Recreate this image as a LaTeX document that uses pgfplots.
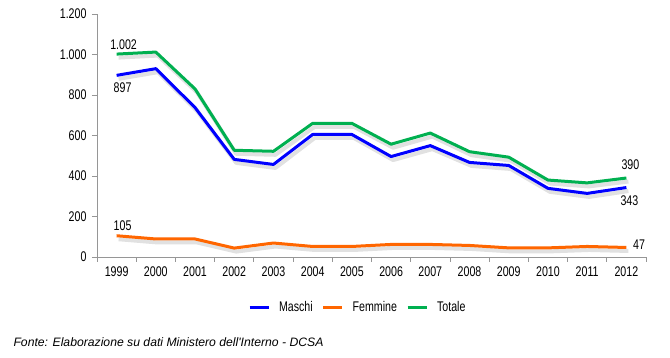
\documentclass[border=0pt]{standalone}
\usepackage{pgfplots}
\pgfplotsset{compat=1.18}
\usepackage{fontspec}
\setmainfont[FakeStretch=0.76]{Liberation Sans}
\newfontfamily\fnfont{Liberation Sans}
\definecolor{cM}{RGB}{0,0,255}
\definecolor{cF}{RGB}{255,102,0}
\definecolor{cT}{RGB}{0,176,80}
\definecolor{axg}{RGB}{150,150,150}
\definecolor{shd}{RGB}{225,225,225}
\pgfplotstableread{
x M F T
0 897 105 1002
1 930 89 1012
2 738 89 830
3 482 44 527
4 457 69 522
5 605 52 660
6 605 52 660
7 496 62 557
8 550 62 612
9 467 57 520
10 452 45 493
11 339 45 380
12 314 52 366
13 343 47 390
}\data
\newcommand{\lf}{\fontsize{14}{16}\selectfont}
\begin{document}
\begin{tikzpicture}[x=1pt,y=1pt]
\useasboundingbox (0,0) rectangle (670,358);
\begin{axis}[
  at={(97pt,101pt)}, anchor=south west,
  scale only axis, width=549pt, height=243pt,
  xmin=-0.5, xmax=13.5, ymin=0, ymax=1200,
  axis x line*=bottom, axis y line*=left,
  axis line style={draw=axg, line width=0.8pt},
  xtick={-0.5,0.5,...,13.5},
  xticklabels={},
  extra x ticks={0,...,13},
  extra x tick labels={1999,2000,2001,2002,2003,2004,2005,2006,2007,2008,2009,2010,2011,2012},
  extra x tick style={major tick length=0pt, tick style={draw=none}},
  major tick length=5pt,
  ytick={0,200,...,1200},
  tick style={draw=axg, line width=0.8pt},
  tick align=outside,
  tick label style={font=\lf},
  /pgf/number format/.cd, set thousands separator={.}, assume math mode=true,
  /pgfplots/.cd,
  xticklabel style={yshift=-6pt},
  yticklabel style={xshift=-2pt},
  legend style={at={(0.474,-0.206)}, anchor=center, draw=none, legend columns=-1,
    font=\lf, column sep=8pt, nodes={inner xsep=1pt}},
  legend image code/.code={\draw[#1] (0pt,0pt) -- (19pt,0pt);},
  every axis plot/.append style={line width=3pt, line join=round},
  clip=false,
]
\addplot[shd, line width=4pt, forget plot, /tikz/xshift=2pt, /tikz/yshift=-3.5pt] table[x=x,y=M]{\data};
\addplot[shd, line width=4pt, forget plot, /tikz/xshift=2pt, /tikz/yshift=-3.5pt] table[x=x,y=F]{\data};
\addplot[shd, line width=4pt, forget plot, /tikz/xshift=2pt, /tikz/yshift=-3.5pt] table[x=x,y=T]{\data};
\addplot[cM] table[x=x,y=M]{\data}
  node[pos=0, below, xshift=6pt, yshift=-3pt, font=\lf, black] {897}
  node[pos=1, below, xshift=3pt, yshift=-3pt, font=\lf, black] {343};
\addlegendentry{Maschi}
\addplot[cF] table[x=x,y=F]{\data}
  node[pos=0, above, xshift=6pt, yshift=0pt, font=\lf, black] {105}
  node[pos=1, right, xshift=2pt, yshift=3pt, font=\lf, black] {47};
\addlegendentry{Femmine}
\addplot[cT] table[x=x,y=T]{\data}
  node[pos=0, above, xshift=7pt, yshift=0pt, font=\lf, black] {1.002}
  node[pos=1, above, xshift=4pt, yshift=4pt, font=\lf, black] {390};
\addlegendentry{Totale}
\end{axis}
\node[anchor=base west, font=\fnfont\itshape\fontsize{12.2}{14}\selectfont] at (10,11) {Fonte: Elaborazione su dati Ministero dell'Interno - DCSA};
\end{tikzpicture}
\end{document}
